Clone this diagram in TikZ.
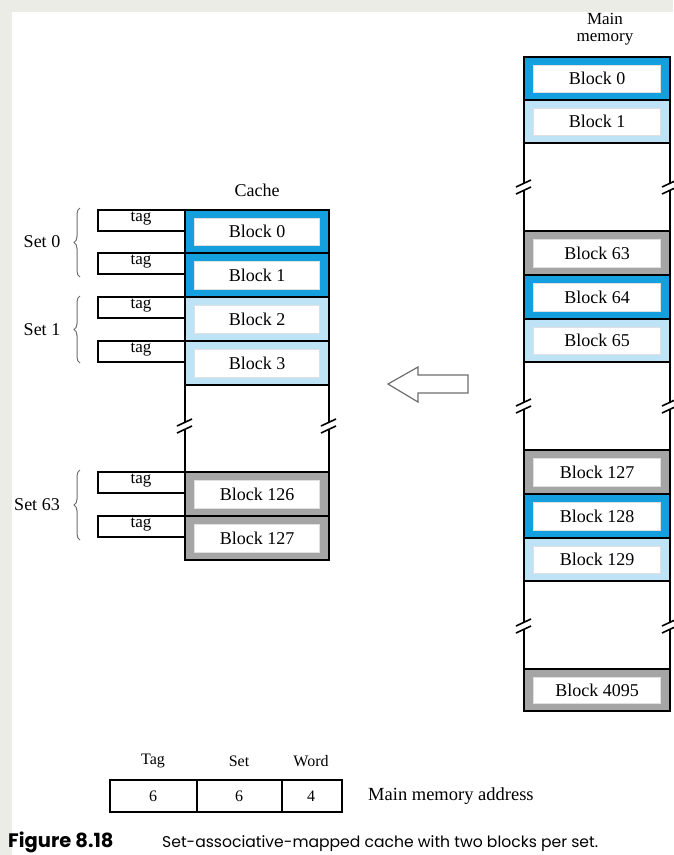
\documentclass[tikz,border=0pt]{standalone}
\usepackage{fontspec}
\setmainfont{Liberation Serif}
\newfontfamily\capfont{Poppins}
\usetikzlibrary{decorations.pathreplacing}
\definecolor{dblue}{RGB}{20,160,222}
\definecolor{lblue}{RGB}{190,226,246}
\definecolor{mgray}{RGB}{165,165,165}
\definecolor{bggray}{RGB}{236,236,230}
\definecolor{brgray}{RGB}{110,110,110}
\tikzset{
  outl/.style={draw=black, line width=2.8pt},
  inbox/.style={fill=white, draw=white!88!black, line width=0.4pt, inner sep=0pt,
    font=\fontsize{18}{18}\selectfont},
  tagbox/.style={draw=black, line width=1.4pt, fill=white},
  tagtxt/.style={font=\fontsize{17}{17}\selectfont, inner sep=0pt},
  lbl/.style={font=\fontsize{18}{18}\selectfont, inner sep=0pt},
  setbrace/.style={decorate, decoration={brace, amplitude=6pt}, draw=brgray, line width=1pt},
  brk/.style={draw=black, line width=1.6pt},
}
% block: name, center x, ytop, ybot, width, fill, text
\newcommand\memblk[7]{%
  \path[fill=#6] ({#2-#5/2},#3) rectangle ({#2+#5/2},#4);
  \node[inbox, minimum width={#5-19}, minimum height={#4-#3-16}] (#1) at (#2,{(#3+#4)/2}) {#7};
  \draw[outl] ({#2-#5/2},#3) rectangle ({#2+#5/2},#4);
}
% gap: left x, right x, ytop, ybot, break y
\newcommand\memgap[5]{%
  \draw[outl] (#1,#3) -- (#1,{#5-3}) (#1,{#5+4}) -- (#1,#4);
  \draw[outl] (#2,#3) -- (#2,{#5-3}) (#2,{#5+4}) -- (#2,#4);
  \draw[brk] ({#1-8},{#5+1}) -- ({#1+7},{#5-6}) ({#1-8},{#5+8}) -- ({#1+7},{#5+1});
  \draw[brk] ({#2-8},{#5+1}) -- ({#2+7},{#5-6}) ({#2-8},{#5+8}) -- ({#2+7},{#5+1});
}
\begin{document}
\begin{tikzpicture}[x=1pt,y=-1pt]
\useasboundingbox (0,0) rectangle (673,855);
\fill[bggray] (0,0) rectangle (673,855);
\fill[white] (12,12) rectangle (673,855);

% ---------- Cache ----------
\node[lbl] (cachelbl) at (257,190) {Cache};
\memblk{c0}{257}{210}{253}{144}{dblue}{Block 0}
\memblk{c1}{257}{253}{297}{144}{dblue}{Block 1}
\memblk{c2}{257}{297}{341}{144}{lblue}{Block 2}
\memblk{c3}{257}{341}{385}{144}{lblue}{Block 3}
\memgap{185}{329}{385}{472}{425}
\memblk{c126}{257}{472}{516}{144}{mgray}{Block 126}
\memblk{c127}{257}{516}{560}{144}{mgray}{Block 127}

% tags
\foreach \yt/\nm in {210/t0, 253/t1, 297/t2, 341/t3, 472/t126, 516/t127} {
  \draw[tagbox] (98,\yt) rectangle (185,\yt+21);
  \node[tagtxt] (\nm) at (141,\yt+8.5) {tag};
}

% set braces
\draw[setbrace] (80,277) -- (80,208);
\node[lbl] (s0) at (42,242) {Set 0};
\draw[setbrace] (80,363) -- (80,296);
\node[lbl] (s1) at (42,330) {Set 1};
\draw[setbrace] (80,540) -- (80,470);
\node[lbl] (s63) at (37,505) {Set 63};

% ---------- Main memory ----------
\node[lbl, align=center, font=\fontsize{17}{17}\selectfont] (mmlbl) at (605,29) {Main\\memory};
\memblk{m0}{597}{57}{100}{146}{dblue}{Block 0}
\memblk{m1}{597}{100}{143}{146}{lblue}{Block 1}
\memgap{524}{670}{143}{231}{186}
\memblk{m63}{597}{231}{275}{146}{mgray}{Block 63}
\memblk{m64}{597}{275}{319}{146}{dblue}{Block 64}
\memblk{m65}{597}{319}{362}{146}{lblue}{Block 65}
\memgap{524}{670}{362}{450}{405}
\memblk{m127}{597}{450}{494}{146}{mgray}{Block 127}
\memblk{m128}{597}{494}{538}{146}{dblue}{Block 128}
\memblk{m129}{597}{538}{581}{146}{lblue}{Block 129}
\memgap{524}{670}{581}{669}{625}
\memblk{m4095}{597}{669}{711}{146}{mgray}{Block 4095}

% hollow arrow
\draw[draw=brgray, line width=1.2pt, fill=white, line join=miter]
  (388,384) -- (418,367) -- (418,375) -- (468,375) -- (468,393) -- (418,393) -- (418,402) -- cycle;

% ---------- Address ----------
\draw[draw=black, line width=2.4pt] (110,780) rectangle (342,812);
\draw[draw=black, line width=2.4pt] (197,780) -- (197,812) (282,780) -- (282,812);
\node[lbl, font=\fontsize{16}{16}\selectfont] (a1) at (153,796) {6};
\node[lbl, font=\fontsize{16}{16}\selectfont] (a2) at (239,796) {6};
\node[lbl, font=\fontsize{16}{16}\selectfont] (a3) at (311,796) {4};
\node[lbl, font=\fontsize{16}{16}\selectfont] (h1) at (153,761) {Tag};
\node[lbl, font=\fontsize{16}{16}\selectfont] (h2) at (239,761) {Set};
\node[lbl, font=\fontsize{16}{16}\selectfont] (h3) at (311,761) {Word};
\node[lbl, anchor=west, font=\fontsize{18.5}{18.5}\selectfont] (mma) at (368,796) {Main memory address};

% ---------- Caption ----------
\node[anchor=base west, inner sep=0pt, font=\capfont\bfseries\fontsize{19.5}{19.5}\selectfont] (fig) at (8,847) {Figure 8.18};
\node[anchor=base west, inner sep=0pt, font=\capfont\fontsize{15.6}{15.6}\selectfont] (cap) at (162,847) {Set-associative-mapped cache with two blocks per set.};
\end{tikzpicture}
\end{document}
